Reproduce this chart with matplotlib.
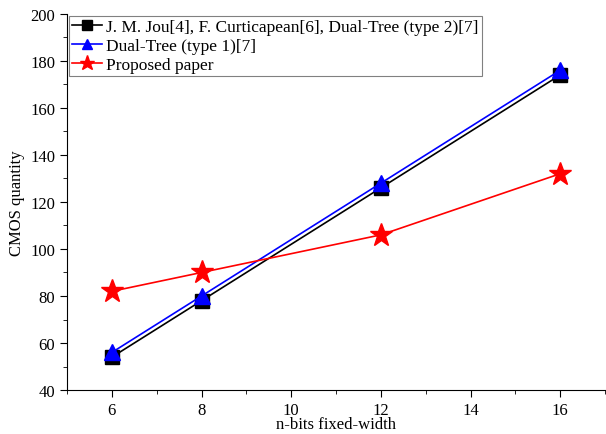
import numpy as np
import matplotlib.pyplot as plt
from matplotlib.ticker import MultipleLocator

plt.rcParams['font.family'] = ['Liberation Serif', 'DejaVu Serif']

n_bits = [6, 8, 12, 16]
cmos_prior = [54, 78, 126, 174]
cmos_dual1 = [56, 80, 128, 176]
cmos_proposed = [82, 90, 106, 132]

fig = plt.figure(figsize=(6.06, 4.35), dpi=100)
ax = fig.add_axes([0.1106, 0.101, 0.888, 0.865])

ax.plot(n_bits, cmos_prior, 's-', color='black', markersize=10, lw=1.2,
        label="J. M. Jou[4], F. Curticapean[6], Dual-Tree (type 2)[7]")
ax.plot(n_bits, cmos_dual1, '^-', color='blue', markersize=11, lw=1.2,
        label="Dual-Tree (type 1)[7]")
ax.plot(n_bits, cmos_proposed, '*-', color='red', markersize=17, lw=1.2,
        label="Proposed paper")

ax.set_xlim(5, 17)
ax.set_ylim(40, 200)
ax.set_xticks([6, 8, 10, 12, 14, 16])
ax.xaxis.set_minor_locator(MultipleLocator(1))
ax.yaxis.set_major_locator(MultipleLocator(20))
ax.yaxis.set_minor_locator(MultipleLocator(10))
ax.tick_params(which='both', direction='out', labelsize=12)
ax.tick_params(which='major', length=5)
ax.tick_params(which='minor', length=3)
for s in ['top', 'right']:
    ax.spines[s].set_visible(False)

ax.set_xlabel("n-bits fixed-width", fontsize=12, labelpad=-1)
ax.set_ylabel("CMOS quantity", fontsize=12, labelpad=4)

leg = ax.legend(loc='upper left', fontsize=12.5, fancybox=False, framealpha=1,
                edgecolor='gray', handlelength=1.7, borderaxespad=0.1,
                borderpad=0.2, labelspacing=0.15, handletextpad=0.25,
                markerscale=0.65)
leg.get_frame().set_linewidth(0.8)

fig.savefig("out.png", dpi=100)
